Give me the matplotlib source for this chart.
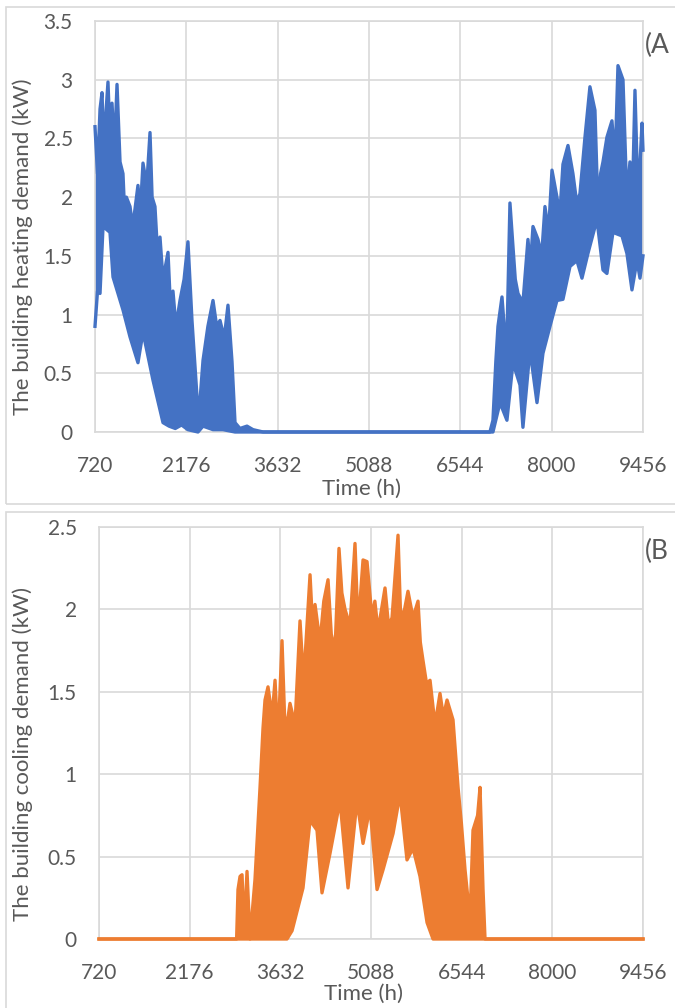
import numpy as np
import matplotlib
matplotlib.use("Agg")
import matplotlib.pyplot as plt
from matplotlib.patches import Rectangle

plt.rcParams['font.family'] = ['Lato', 'DejaVu Sans']

# hourly demand, stored as upper / lower envelopes (hour, kW)
heat_up_h = [720, 760, 800, 832, 860, 880, 927, 960, 991, 1030, 1071, 1119, 1166, 1190,
             1220, 1278, 1320, 1358, 1405, 1440, 1485, 1545, 1597, 1630, 1676, 1720, 1756,
             1804, 1884, 1920, 1963, 2010, 2075, 2140, 2202, 2266, 2346, 2362, 2442, 2520,
             2601, 2660, 2713, 2780, 2840, 2904, 2952, 3031, 3143, 3239, 3400, 6698, 7016,
             7064, 7110, 7144, 7208, 7250, 7287, 7335, 7383, 7420, 7463, 7542, 7622, 7660,
             7702, 7782, 7840, 7893, 7950, 8005, 8084, 8130, 8180, 8260, 8339, 8400, 8451,
             8531, 8610, 8690, 8738, 8780, 8818, 8881, 8961, 9010, 9057, 9137, 9200, 9248,
             9290, 9328, 9376, 9410, 9440, 9456]
heat_up = [2.6, 2.2, 2.75, 2.89, 2.4, 2.6, 2.98, 2.5, 2.8, 2.4, 2.96, 2.3, 2.2, 1.9,
           2.0, 1.92, 1.75, 1.9, 2.1, 1.85, 2.29, 2.1, 2.55, 2.0, 1.92, 1.5, 1.66,
           1.3, 1.53, 1.1, 1.2, 0.9, 1.12, 1.3, 1.62, 0.95, 0.3, 0.04, 0.61, 0.9,
           1.12, 0.9, 0.95, 0.8, 1.08, 0.6, 0.08, 0.03, 0.05, 0.02, 0.0, 0.0, 0.0,
           0.1, 0.6, 0.9, 1.15, 0.85, 0.8, 1.95, 1.58, 1.3, 1.18, 1.1, 1.64, 1.4,
           1.75, 1.64, 1.5, 1.92, 1.7, 2.23, 2.0, 1.85, 2.28, 2.44, 2.2, 1.95, 2.03,
           2.51, 2.94, 2.74, 1.9, 2.2, 2.3, 2.51, 2.65, 2.3, 3.12, 3.0, 1.97, 2.3,
           2.05, 2.91, 2.0, 2.3, 2.63, 2.4]
heat_lo_h = [720, 760, 800, 848, 959, 1007, 1166, 1278, 1405, 1485, 1645, 1804, 1900, 2000,
             2100, 2200, 2362, 2442, 2601, 2760, 2952, 7064, 7176, 7287, 7383, 7495, 7542,
             7654, 7766, 7861, 7973, 8084, 8180, 8292, 8403, 8483, 8578, 8722, 8818, 8881,
             8977, 9121, 9200, 9280, 9360, 9408, 9456]
heat_lo = [0.9, 1.2, 1.18, 1.75, 1.7, 1.32, 1.04, 0.81, 0.59, 0.85, 0.44, 0.08, 0.05, 0.03,
           0.06, 0.02, 0.0, 0.05, 0.02, 0.02, 0.0, 0.0, 0.25, 0.1, 0.59, 0.4, 0.04,
           0.7, 0.25, 0.67, 0.9, 1.12, 1.13, 1.41, 1.46, 1.31, 1.52, 1.81, 1.38, 1.35,
           1.7, 1.67, 1.52, 1.21, 1.46, 1.31, 1.5]

cool_up_h = [720, 2930, 2952, 2985, 3017, 3050, 3097, 3145, 3225, 3306, 3354, 3386, 3434,
             3500, 3547, 3595, 3659, 3700, 3739, 3787, 3868, 3948, 4000, 4028, 4109, 4150,
             4189, 4269, 4330, 4398, 4450, 4510, 4574, 4620, 4671, 4751, 4831, 4870, 4912,
             4960, 5024, 5104, 5150, 5201, 5313, 5370, 5426, 5522, 5560, 5602, 5682, 5763,
             5843, 5880, 5923, 5980, 6036, 6116, 6196, 6250, 6309, 6405, 6486, 6540, 6598,
             6678, 6726, 6800, 6839, 6887, 6919, 9456]
cool_up = [0, 0, 0.3, 0.38, 0.39, 0.05, 0.41, 0.0, 0.36, 0.92, 1.28, 1.45, 1.53,
           1.35, 1.57, 1.2, 1.81, 1.35, 1.3, 1.43, 1.3, 1.93, 1.6, 1.7, 2.21, 1.9,
           2.03, 1.8, 2.05, 2.18, 1.85, 1.75, 2.37, 2.1, 2.0, 1.9, 2.40, 2.0, 2.05,
           2.3, 2.29, 1.95, 2.05, 1.87, 2.13, 1.9, 1.95, 2.45, 2.0, 1.95, 2.11, 1.95,
           2.05, 1.8, 1.69, 1.55, 1.57, 1.3, 1.49, 1.35, 1.45, 1.33, 0.92, 0.7, 0.42,
           0.12, 0.66, 0.75, 0.92, 0.3, 0, 0]
cool_lo_h = [720, 3739, 3820, 3996, 4109, 4221, 4301, 4430, 4590, 4719, 4863, 4960, 5072,
             5185, 5281, 5442, 5554, 5666, 5763, 5875, 5988, 6084, 9456]
cool_lo = [0, 0.0, 0.05, 0.31, 0.72, 0.66, 0.28, 0.52, 0.84, 0.31, 0.84, 0.58, 0.8,
           0.30, 0.42, 0.64, 0.88, 0.48, 0.55, 0.38, 0.1, 0, 0]

xticks = [720, 2176, 3632, 5088, 6544, 8000, 9456]

W, H = 675, 1008
fig = plt.figure(figsize=(W / 100, H / 100), dpi=100)
grey = '#D9D9D9'
txt = '#595959'

# panel frames
for y0, y1 in [(7, 504), (512, 1015)]:
    fig.patches.append(Rectangle((6 / W, 1 - y1 / H), 700 / W, (y1 - y0) / H,
                                 transform=fig.transFigure, fill=False,
                                 edgecolor=grey, lw=1.2))


def panel(rect, xu, yu, xl, yl, color, ymax, ylabel, tag, ylab_x, ylab_y, xlab_y):
    ax = fig.add_axes(rect)
    px = np.concatenate([xu, xl[::-1]])
    py = np.concatenate([yu, yl[::-1]])
    ax.fill(px, py, color=color, lw=0)
    ax.plot(xu, yu, color=color, lw=2.4, clip_on=False, zorder=3)
    ax.plot(xl, yl, color=color, lw=2.4, clip_on=False, zorder=3)
    ax.set_xlim(720, 9456)
    ax.set_ylim(0, ymax)
    ax.set_xticks(xticks)
    ticks = np.arange(0, ymax + 0.01, 0.5)
    ax.set_yticks(ticks)
    ax.set_yticklabels([f'{v:g}' for v in ticks])
    ax.grid(True, color=grey, lw=1.2)
    ax.set_axisbelow(True)
    for s in ax.spines.values():
        s.set_color(grey)
        s.set_linewidth(1.2)
    ax.tick_params(length=0, labelsize=15, colors=txt, pad=17)
    ax.tick_params(axis='y', pad=16)
    ax.set_xlabel('Time (h)', fontsize=16, color=txt)
    ax.set_ylabel(ylabel, fontsize=16, color=txt)
    ax.xaxis.set_label_coords(0.487, xlab_y)
    ax.yaxis.set_label_coords(ylab_x, ylab_y)
    ax.text(1.004, 0.94, tag, transform=ax.transAxes, fontsize=19, color=txt,
            ha='left', va='center')
    return ax


panel([95 / W, 1 - 432 / H, 548 / W, 411 / H], heat_up_h, heat_up, heat_lo_h, heat_lo,
      '#4472C4', 3.5, 'The building heating demand (kW)', '(A', -0.113, 0.45, -0.113)
panel([99 / W, 1 - 939 / H, 544 / W, 412 / H], cool_up_h, cool_up, cool_lo_h, cool_lo,
      '#ED7D31', 2.5, 'The building cooling demand (kW)', '(B', -0.121, 0.45, -0.108)

fig.savefig('out.png', dpi=100)
